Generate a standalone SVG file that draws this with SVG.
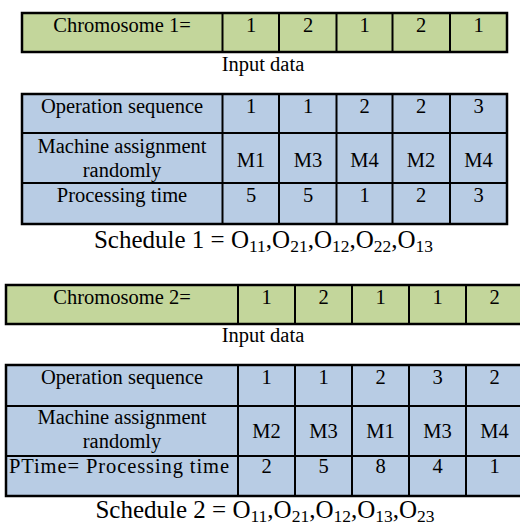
<svg xmlns="http://www.w3.org/2000/svg" width="520" height="525" viewBox="0 0 520 525" font-family="'Liberation Serif', Tinos, 'Times New Roman', 'DejaVu Serif', serif">
  <style>
    .green { fill: #c3d69b; }
    .blue { fill: #b8cce4; }
    .frame { fill: none; stroke: #000; stroke-width: 2.5; }
    .grid { stroke: #000; stroke-width: 2; fill: none; }
    text { font-family: 'Liberation Serif', Tinos, 'Times New Roman', 'DejaVu Serif', serif; fill: #000; }
    .cell { font-size: 20.5px; text-anchor: middle; }
    .cell-left { font-size: 20.5px; text-anchor: start; }
    .cap { font-size: 20.5px; text-anchor: middle; }
    .sched { font-size: 25px; text-anchor: middle; }
    .sub { font-size: 17.5px; }
  </style>

  <!-- Chromosome 1 -->
  <g id="chromosome1">
    <rect class="green" x="22" y="13" width="485" height="39"/>
    <path class="grid" d="M222.5 13V52M279 13V52M336.5 13V52M392.5 13V52M450 13V52"/>
    <rect class="frame" x="22" y="13" width="485" height="39"/>
    <text class="cell" x="122" y="31.5">Chromosome 1=</text>
    <text class="cell" x="251" y="31.5">1</text>
    <text class="cell" x="308" y="31.5">2</text>
    <text class="cell" x="364.5" y="31.5">1</text>
    <text class="cell" x="421" y="31.5">2</text>
    <text class="cell" x="478.5" y="31.5">1</text>
  </g>

  <text id="input1" class="cap" x="263" y="71">Input data</text>

  <!-- Decoding table 1 -->
  <g id="decode1">
    <rect class="blue" x="22" y="94" width="485" height="130"/>
    <path class="grid" d="M222.5 94V224M279 94V224M336.5 94V224M392.5 94V224M450 94V224M22 133H507M22 183H507"/>
    <rect class="frame" x="22" y="94" width="485" height="130"/>
    <text class="cell" x="122" y="113">Operation sequence</text>
    <text class="cell" x="251" y="113">1</text>
    <text class="cell" x="308" y="113">1</text>
    <text class="cell" x="364.5" y="113">2</text>
    <text class="cell" x="421" y="113">2</text>
    <text class="cell" x="478.5" y="113">3</text>
    <text class="cell" x="122" y="152.5">Machine assignment</text>
    <text class="cell" x="122" y="176.5">randomly</text>
    <text class="cell" x="251" y="166.5">M1</text>
    <text class="cell" x="308" y="166.5">M3</text>
    <text class="cell" x="364.5" y="166.5">M4</text>
    <text class="cell" x="421" y="166.5">M2</text>
    <text class="cell" x="478.5" y="166.5">M4</text>
    <text class="cell" x="122" y="201.5">Processing time</text>
    <text class="cell" x="251" y="201.5">5</text>
    <text class="cell" x="308" y="201.5">5</text>
    <text class="cell" x="364.5" y="201.5">1</text>
    <text class="cell" x="421" y="201.5">2</text>
    <text class="cell" x="478.5" y="201.5">3</text>
  </g>

  <text id="schedule1" class="sched" x="263.5" y="248">Schedule 1 = O<tspan class="sub" dy="4">11</tspan><tspan dy="-4">,O</tspan><tspan class="sub" dy="4">21</tspan><tspan dy="-4">,O</tspan><tspan class="sub" dy="4">12</tspan><tspan dy="-4">,O</tspan><tspan class="sub" dy="4">22</tspan><tspan dy="-4">,O</tspan><tspan class="sub" dy="4">13</tspan></text>

  <!-- Chromosome 2 (runs past the right edge) -->
  <g id="chromosome2">
    <rect class="green" x="6" y="285" width="518" height="39"/>
    <path class="grid" d="M238 285V324M295 285V324M352 285V324M409 285V324M466 285V324"/>
    <rect class="frame" x="6" y="285" width="518" height="39"/>
    <text class="cell" x="122" y="303.5">Chromosome 2=</text>
    <text class="cell" x="266.5" y="303.5">1</text>
    <text class="cell" x="323.5" y="303.5">2</text>
    <text class="cell" x="380.5" y="303.5">1</text>
    <text class="cell" x="437.5" y="303.5">1</text>
    <text class="cell" x="494.5" y="303.5">2</text>
  </g>

  <text id="input2" class="cap" x="263" y="342">Input data</text>

  <!-- Decoding table 2 -->
  <g id="decode2">
    <rect class="blue" x="6" y="365" width="518" height="131"/>
    <path class="grid" d="M238 365V496M295 365V496M352 365V496M409 365V496M466 365V496M6 406H524M6 456H524"/>
    <rect class="frame" x="6" y="365" width="518" height="131"/>
    <text class="cell" x="122" y="384">Operation sequence</text>
    <text class="cell" x="266.5" y="384">1</text>
    <text class="cell" x="323.5" y="384">1</text>
    <text class="cell" x="380.5" y="384">2</text>
    <text class="cell" x="437.5" y="384">3</text>
    <text class="cell" x="494.5" y="384">2</text>
    <text class="cell" x="122" y="424">Machine assignment</text>
    <text class="cell" x="122" y="448">randomly</text>
    <text class="cell" x="266.5" y="438">M2</text>
    <text class="cell" x="323.5" y="438">M3</text>
    <text class="cell" x="380.5" y="438">M1</text>
    <text class="cell" x="437.5" y="438">M3</text>
    <text class="cell" x="494.5" y="438">M4</text>
    <text class="cell-left" x="9" y="473" textLength="220" lengthAdjust="spacing">PTime= Processing time</text>
    <text class="cell" x="266.5" y="473">2</text>
    <text class="cell" x="323.5" y="473">5</text>
    <text class="cell" x="380.5" y="473">8</text>
    <text class="cell" x="437.5" y="473">4</text>
    <text class="cell" x="494.5" y="473">1</text>
  </g>

  <text id="schedule2" class="sched" x="265" y="517.5">Schedule 2 = O<tspan class="sub" dy="4">11</tspan><tspan dy="-4">,O</tspan><tspan class="sub" dy="4">21</tspan><tspan dy="-4">,O</tspan><tspan class="sub" dy="4">12</tspan><tspan dy="-4">,O</tspan><tspan class="sub" dy="4">13</tspan><tspan dy="-4">,O</tspan><tspan class="sub" dy="4">23</tspan></text>
</svg>
